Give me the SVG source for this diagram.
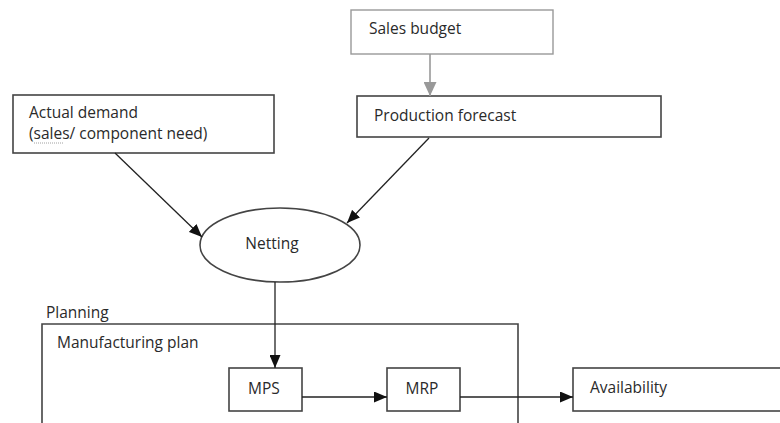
<svg xmlns="http://www.w3.org/2000/svg" width="780" height="423" viewBox="0 0 780 423">
<defs>
<style>
text{font-family:"Open Sans","Noto Sans",sans-serif;font-size:15.5px;fill:#2a2a2a}
.box{fill:#fff;stroke:#444;stroke-width:1.6}
.gbox{fill:#fff;stroke:#999;stroke-width:1.4}
.ln{stroke:#222;stroke-width:1.3;fill:none}
.gln{stroke:#999;stroke-width:1.6;fill:none}
</style>
<marker id="ah" markerWidth="13" markerHeight="11" refX="13" refY="5.5" orient="auto" markerUnits="userSpaceOnUse" viewBox="0 0 13 11"><path d="M0,0 L13,5.5 L0,11 z" fill="#111"/></marker>
<marker id="gah" markerWidth="14" markerHeight="13" refX="14" refY="6.5" orient="auto" markerUnits="userSpaceOnUse" viewBox="0 0 14 13"><path d="M0,0 L14,6.5 L0,13 z" fill="#999"/></marker>
</defs>
<rect width="780" height="423" fill="#fff"/>
<g id="planning">
<text x="46" y="318">Planning</text>
<path class="box" d="M42,430 V324 H518 V430"/>
<text x="57" y="348">Manufacturing plan</text>
</g>
<g id="sales-budget">
<rect class="gbox" x="351" y="10" width="202" height="44"/>
<text x="369" y="34">Sales budget</text>
</g>
<g id="production-forecast">
<rect class="box" x="357" y="96" width="304" height="41"/>
<text x="374" y="121">Production forecast</text>
</g>
<g id="actual-demand">
<rect class="box" x="13" y="95" width="261" height="58"/>
<text x="29" y="118">Actual demand</text>
<text x="29" y="139">(sales/ component need)</text>
<path d="M34,143 H63" stroke="#888" stroke-width="0.8" stroke-dasharray="1,1"/>
</g>
<g id="netting">
<ellipse class="box" cx="280" cy="245" rx="80" ry="37"/>
<text x="272" y="249" text-anchor="middle">Netting</text>
</g>
<g id="mps">
<rect class="box" x="229" y="368" width="73" height="43"/>
<text x="264" y="394" text-anchor="middle">MPS</text>
</g>
<g id="mrp">
<rect class="box" x="387" y="368" width="73" height="43"/>
<text x="422" y="394" text-anchor="middle">MRP</text>
</g>
<g id="availability">
<rect class="box" x="573" y="368" width="220" height="43"/>
<text x="590" y="393">Availability</text>
</g>
<g id="connectors">
<line class="gln" x1="430" y1="54" x2="430" y2="96" marker-end="url(#gah)"/>
<line class="ln" x1="115" y1="153" x2="202" y2="237" marker-end="url(#ah)"/>
<line class="ln" x1="429" y1="138" x2="347" y2="223" marker-end="url(#ah)"/>
<line class="ln" x1="275" y1="282" x2="275" y2="368" marker-end="url(#ah)"/>
<line class="ln" x1="302" y1="397" x2="387" y2="397" marker-end="url(#ah)"/>
<line class="ln" x1="460" y1="397" x2="573" y2="397" marker-end="url(#ah)"/>
</g>
</svg>
